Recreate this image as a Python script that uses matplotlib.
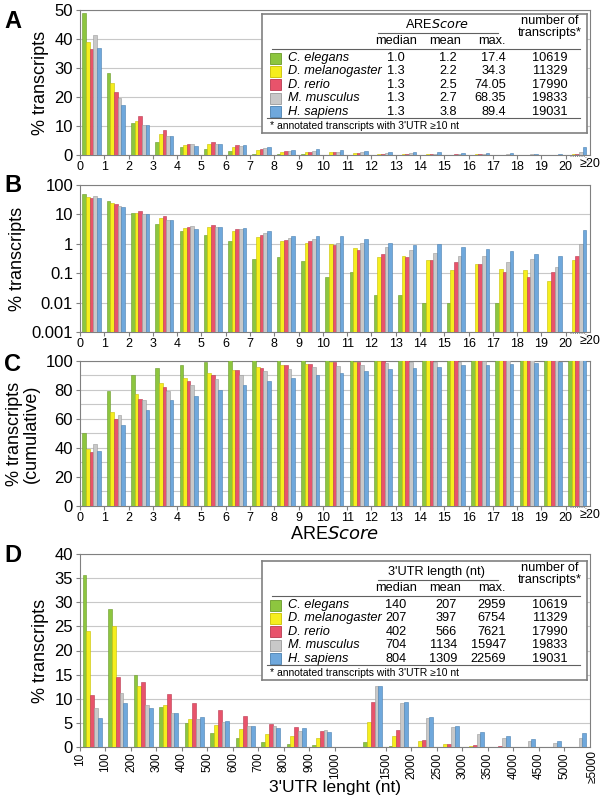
import matplotlib
matplotlib.use("Agg")
import matplotlib.pyplot as plt
import numpy as np

plt.rcParams['font.family'] = ['Liberation Sans', 'DejaVu Sans']

species = ["C. elegans", "D. melanogaster", "D. rerio", "M. musculus", "H. sapiens"]
colors = ["#8dc63f", "#f5ee1e", "#e8536b", "#c8c8c8", "#6fa8dc"]
edges = ["#6a9a2a", "#c8c000", "#b83a50", "#9a9a9a", "#4a80b0"]

score_labels = [str(i) for i in range(21)] + ["≥20"]
# panel A/B: % transcripts per AREScore bin (0..19, >=20)
pct_ce = [49, 28.3, 11, 4.6, 2.8, 2.0, 1.25, 0.3, 0.35, 0.26, 0.075, 0.11, 0.018, 0.018, 0.01, 0.01, 0, 0.01, 0, 0, 0]
pct_dm = [38.8, 25, 11.6, 7.3, 3.4, 3.8, 2.8, 1.7, 1.2, 1.1, 0.95, 0.7, 0.35, 0.38, 0.28, 0.13, 0.2, 0.14, 0.13, 0.055, 0.28]
pct_dr = [36.5, 21.8, 13.4, 8.6, 3.8, 4.4, 3.3, 2.0, 1.35, 1.2, 0.9, 0.6, 0.45, 0.35, 0.28, 0.24, 0.2, 0.11, 0.075, 0.11, 0.38]
pct_mm = [41.5, 19.8, 10.5, 6.6, 3.9, 3.7, 3.1, 2.4, 1.55, 1.5, 1.1, 1.1, 0.75, 0.6, 0.5, 0.38, 0.38, 0.24, 0.3, 0.16, 1.0]
pct_hs = [37, 17.4, 10.2, 6.6, 3.2, 3.8, 3.5, 2.8, 1.8, 1.9, 1.8, 1.5, 1.1, 0.9, 1.0, 0.8, 0.65, 0.58, 0.45, 0.38, 2.9]
# panel C: cumulative %
cum_ce = [50, 79, 90, 95, 97.5, 99.5, 100.5, 101, 101, 101, 101, 101, 101, 101, 101, 101, 101, 101, 101, 101, 101]
cum_dm = [39.5, 65, 77, 84.5, 88, 91.5, 94, 96, 97, 98, 99, 99.5, 100, 100.5, 100.5, 101, 101, 101, 101, 101, 101]
cum_dr = [37.5, 60, 73.5, 82, 86, 90.5, 93.5, 95.5, 97, 98, 99, 99.5, 100, 100.5, 100.5, 101, 101, 101, 101, 101, 101]
cum_mm = [42.5, 62.5, 73, 79.5, 83.5, 87.5, 90, 93, 94.5, 96, 96.5, 97.5, 98.5, 99, 99.5, 99.5, 100, 100.5, 100.5, 100.5, 101]
cum_hs = [38, 56, 66, 73, 76, 80, 83.5, 86.5, 88, 90, 91.5, 93, 94.5, 95.5, 96, 97, 97.5, 98, 98.5, 99, 101]

len_ticks = ["10", "100", "200", "300", "400", "500", "600", "700", "800", "900", "1000",
             "1500", "2000", "2500", "3000", "3500", "4000", "4500", "5000", "≥5000"]
len_ce = [35.7, 28.5, 15, 8.3, 5, 2.9, 1.8, 1.1, 0.6, 0.4, 1.0, 0.2, 0, 0, 0, 0, 0, 0, 0]
len_dm = [24, 25, 12.6, 8.7, 5.8, 4.6, 3.7, 2.7, 2.3, 1.9, 5.1, 2.2, 1.2, 0.6, 0.3, 0.1, 0.05, 0.05, 0.1]
len_dr = [10.8, 14.5, 13.5, 10.9, 9.2, 7.6, 6.4, 4.8, 4.1, 3.4, 9.3, 3.5, 1.4, 0.7, 0.4, 0.2, 0.1, 0.1, 0.1]
len_mm = [8, 11.1, 8.7, 7, 5.8, 5.1, 4.4, 4.3, 3.4, 3.5, 12.6, 9.1, 6, 4.1, 2.6, 1.9, 1.2, 0.8, 1.8]
len_hs = [6, 9.2, 8.1, 7, 6.2, 5.4, 4.4, 4, 3.9, 3.2, 12.6, 9.3, 6.2, 4.3, 3.1, 2.2, 1.6, 1.2, 3.0]

are_median = ["1.0", "1.3", "1.3", "1.3", "1.3"]
are_mean = ["1.2", "2.2", "2.5", "2.7", "3.8"]
are_max = ["17.4", "34.3", "74.05", "68.35", "89.4"]
n_tx = ["10619", "11329", "17990", "19833", "19031"]
len_median = ["140", "207", "402", "704", "804"]
len_mean = ["207", "397", "566", "1134", "1309"]
len_max = ["2959", "6754", "7621", "15947", "22569"]

W, H = 606, 800
fig = plt.figure(figsize=(W / 100, H / 100), dpi=100)
R = 590

def ax_at(l, t, r, b):
    return fig.add_axes([l / W, 1 - b / H, (r - l) / W, (b - t) / H])

bw = 0.15
def bars(ax, pos, series, bottom=0):
    for k, s in enumerate(series):
        ax.bar(np.asarray(pos) + 0.1 + k * bw, np.asarray(s) - bottom, bw, bottom=bottom, align='edge',
               color=colors[k], edgecolor=edges[k], linewidth=0.4, zorder=3)

def style(ax):
    for sp in ax.spines.values():
        sp.set_color("#808080"); sp.set_linewidth(0.8)
    ax.tick_params(axis='y', labelsize=12, length=3, color="#808080", pad=2)
    ax.tick_params(axis='x', labelsize=9, length=3, color="#808080", pad=1)

def score_xaxis(ax):
    ax.set_xlim(0, 21)
    ax.set_xticks(range(21))
    ax.set_xticklabels([str(i) for i in range(21)])
    ax.text(21.0, -0.02, "≥20", transform=ax.get_xaxis_transform(), ha='center', va='top', fontsize=9)
    ax.plot([20.2, 20.8, 21.0], [-0.01, -0.01, -0.05], transform=ax.get_xaxis_transform(),
            color="#606060", lw=0.6, ls=':', clip_on=False)

pos = np.arange(21)
A = [pct_ce, pct_dm, pct_dr, pct_mm, pct_hs]
# Panel A
axA = ax_at(80, 10, R, 155)
bars(axA, pos, A)
axA.set_ylim(0, 50)
axA.set_yticks(range(0, 51, 10))
axA.grid(axis='y', color="#c8c8c8", lw=0.8, zorder=0)
score_xaxis(axA); style(axA)
axA.set_ylabel("% transcripts", fontsize=13)
fig.text(4 / W, 1 - 22 / H, "A", fontsize=17, fontweight='bold', va='center')

# Panel B
axB = ax_at(80, 185, R, 332)
Bs = [[v if v > 0 else np.nan for v in s] for s in A]
for k, s in enumerate(Bs):
    axB.bar(pos + 0.1 + k * bw, np.asarray(s) - 0.001, bw, bottom=0.001, align='edge',
            color=colors[k], edgecolor=edges[k], linewidth=0.4, zorder=3)
axB.set_yscale('log')
axB.set_ylim(0.001, 100)
axB.set_yticks([0.001, 0.01, 0.1, 1, 10, 100])
axB.set_yticklabels(["0.001", "0.01", "0.1", "1", "10", "100"])
axB.minorticks_off()
axB.grid(axis='y', color="#c8c8c8", lw=0.8, zorder=0)
score_xaxis(axB); style(axB)
axB.set_ylabel("% transcripts", fontsize=13)
fig.text(4 / W, 1 - 185 / H, "B", fontsize=17, fontweight='bold', va='center')

# Panel C
axC = ax_at(80, 361, R, 506)
bars(axC, pos, [cum_ce, cum_dm, cum_dr, cum_mm, cum_hs])
axC.set_ylim(0, 100)
axC.set_yticks(range(0, 101, 20))
axC.set_yticks(range(10, 100, 20), minor=True)
axC.tick_params(axis='y', which='minor', length=0)
axC.grid(axis='y', which='both', color="#c8c8c8", lw=0.8, zorder=0)
score_xaxis(axC); style(axC)
axC.set_ylabel("% transcripts\n(cumulative)", fontsize=13, linespacing=1.0)
axC.set_xlabel("ARE$\\it{Score}$", fontsize=13, labelpad=2)
fig.text(4 / W, 1 - 364 / H, "C", fontsize=17, fontweight='bold', va='center')

# Panel D
axD = ax_at(80, 554, R, 747)
dpos = list(range(10)) + list(range(11, 20))
bars(axD, dpos, [len_ce, len_dm, len_dr, len_mm, len_hs])
axD.set_ylim(0, 40)
axD.set_yticks(range(0, 41, 5))
axD.grid(axis='y', color="#c8c8c8", lw=0.8, zorder=0)
axD.set_xlim(0, 20)
tpos = list(range(11)) + list(range(12, 20))
axD.set_xticks(tpos)
axD.set_xticklabels(len_ticks[:-1], rotation=90)
style(axD)
axD.tick_params(axis='x', labelsize=8.5)
axD.text(20.1, -0.015, len_ticks[-1], rotation=90, transform=axD.get_xaxis_transform(),
         ha='center', va='top', fontsize=8.5)
axD.set_ylabel("% transcripts", fontsize=13)
axD.set_xlabel("3'UTR lenght (nt)", fontsize=12.5, labelpad=1)
fig.text(4 / W, 1 - 556 / H, "D", fontsize=17, fontweight='bold', va='center')

def table(l, t, r, b, header, c1, c2, c3):
    tax = fig.add_axes([l / W, 1 - b / H, (r - l) / W, (b - t) / H], zorder=5)
    tax.set_xlim(0, r - l); tax.set_ylim(b - t, 0)
    tax.set_xticks([]); tax.set_yticks([])
    tax.set_facecolor("white")
    for sp in tax.spines.values():
        sp.set_color("#808080"); sp.set_linewidth(1.2)
    fs = 9.2
    tax.text(175, 11, header, ha='center', va='center', fontsize=fs)
    tax.plot([116, 236], [19, 19], color="#606060", lw=0.8)
    tax.text(288, 13, "number of\ntranscripts*", ha='center', va='center', fontsize=fs, linespacing=1.0)
    tax.text(134, 27, "median", ha='center', va='center', fontsize=fs)
    tax.text(183, 27, "mean", ha='center', va='center', fontsize=fs)
    tax.text(230, 27, "max.", ha='center', va='center', fontsize=fs)
    tax.plot([10, 318], [35, 35], color="#606060", lw=0.8)
    for i in range(5):
        y = 44 + i * 13.4
        tax.add_patch(plt.Rectangle((8, y - 5.5), 11, 11, facecolor=colors[i], edgecolor=edges[i], lw=0.6))
        tax.text(26, y, species[i], style='italic', va='center', fontsize=fs)
        tax.text(134, y, c1[i], ha='center', va='center', fontsize=fs)
        tax.text(195, y, c2[i], ha='right', va='center', fontsize=fs)
        tax.text(244, y, c3[i], ha='right', va='center', fontsize=fs)
        tax.text(288, y, n_tx[i], ha='center', va='center', fontsize=fs)
    tax.plot([5, 318], [104, 104], color="#606060", lw=0.8)
    tax.text(8, 112, "* annotated transcripts with 3'UTR ≥10 nt", va='center', fontsize=7.5)

table(262, 14, 587, 133, "ARE$\\it{Score}$", are_median, are_mean, are_max)
table(262, 561, 587, 680, "3'UTR length (nt)", len_median, len_mean, len_max)

fig.savefig("out.png", dpi=100, facecolor="white")
